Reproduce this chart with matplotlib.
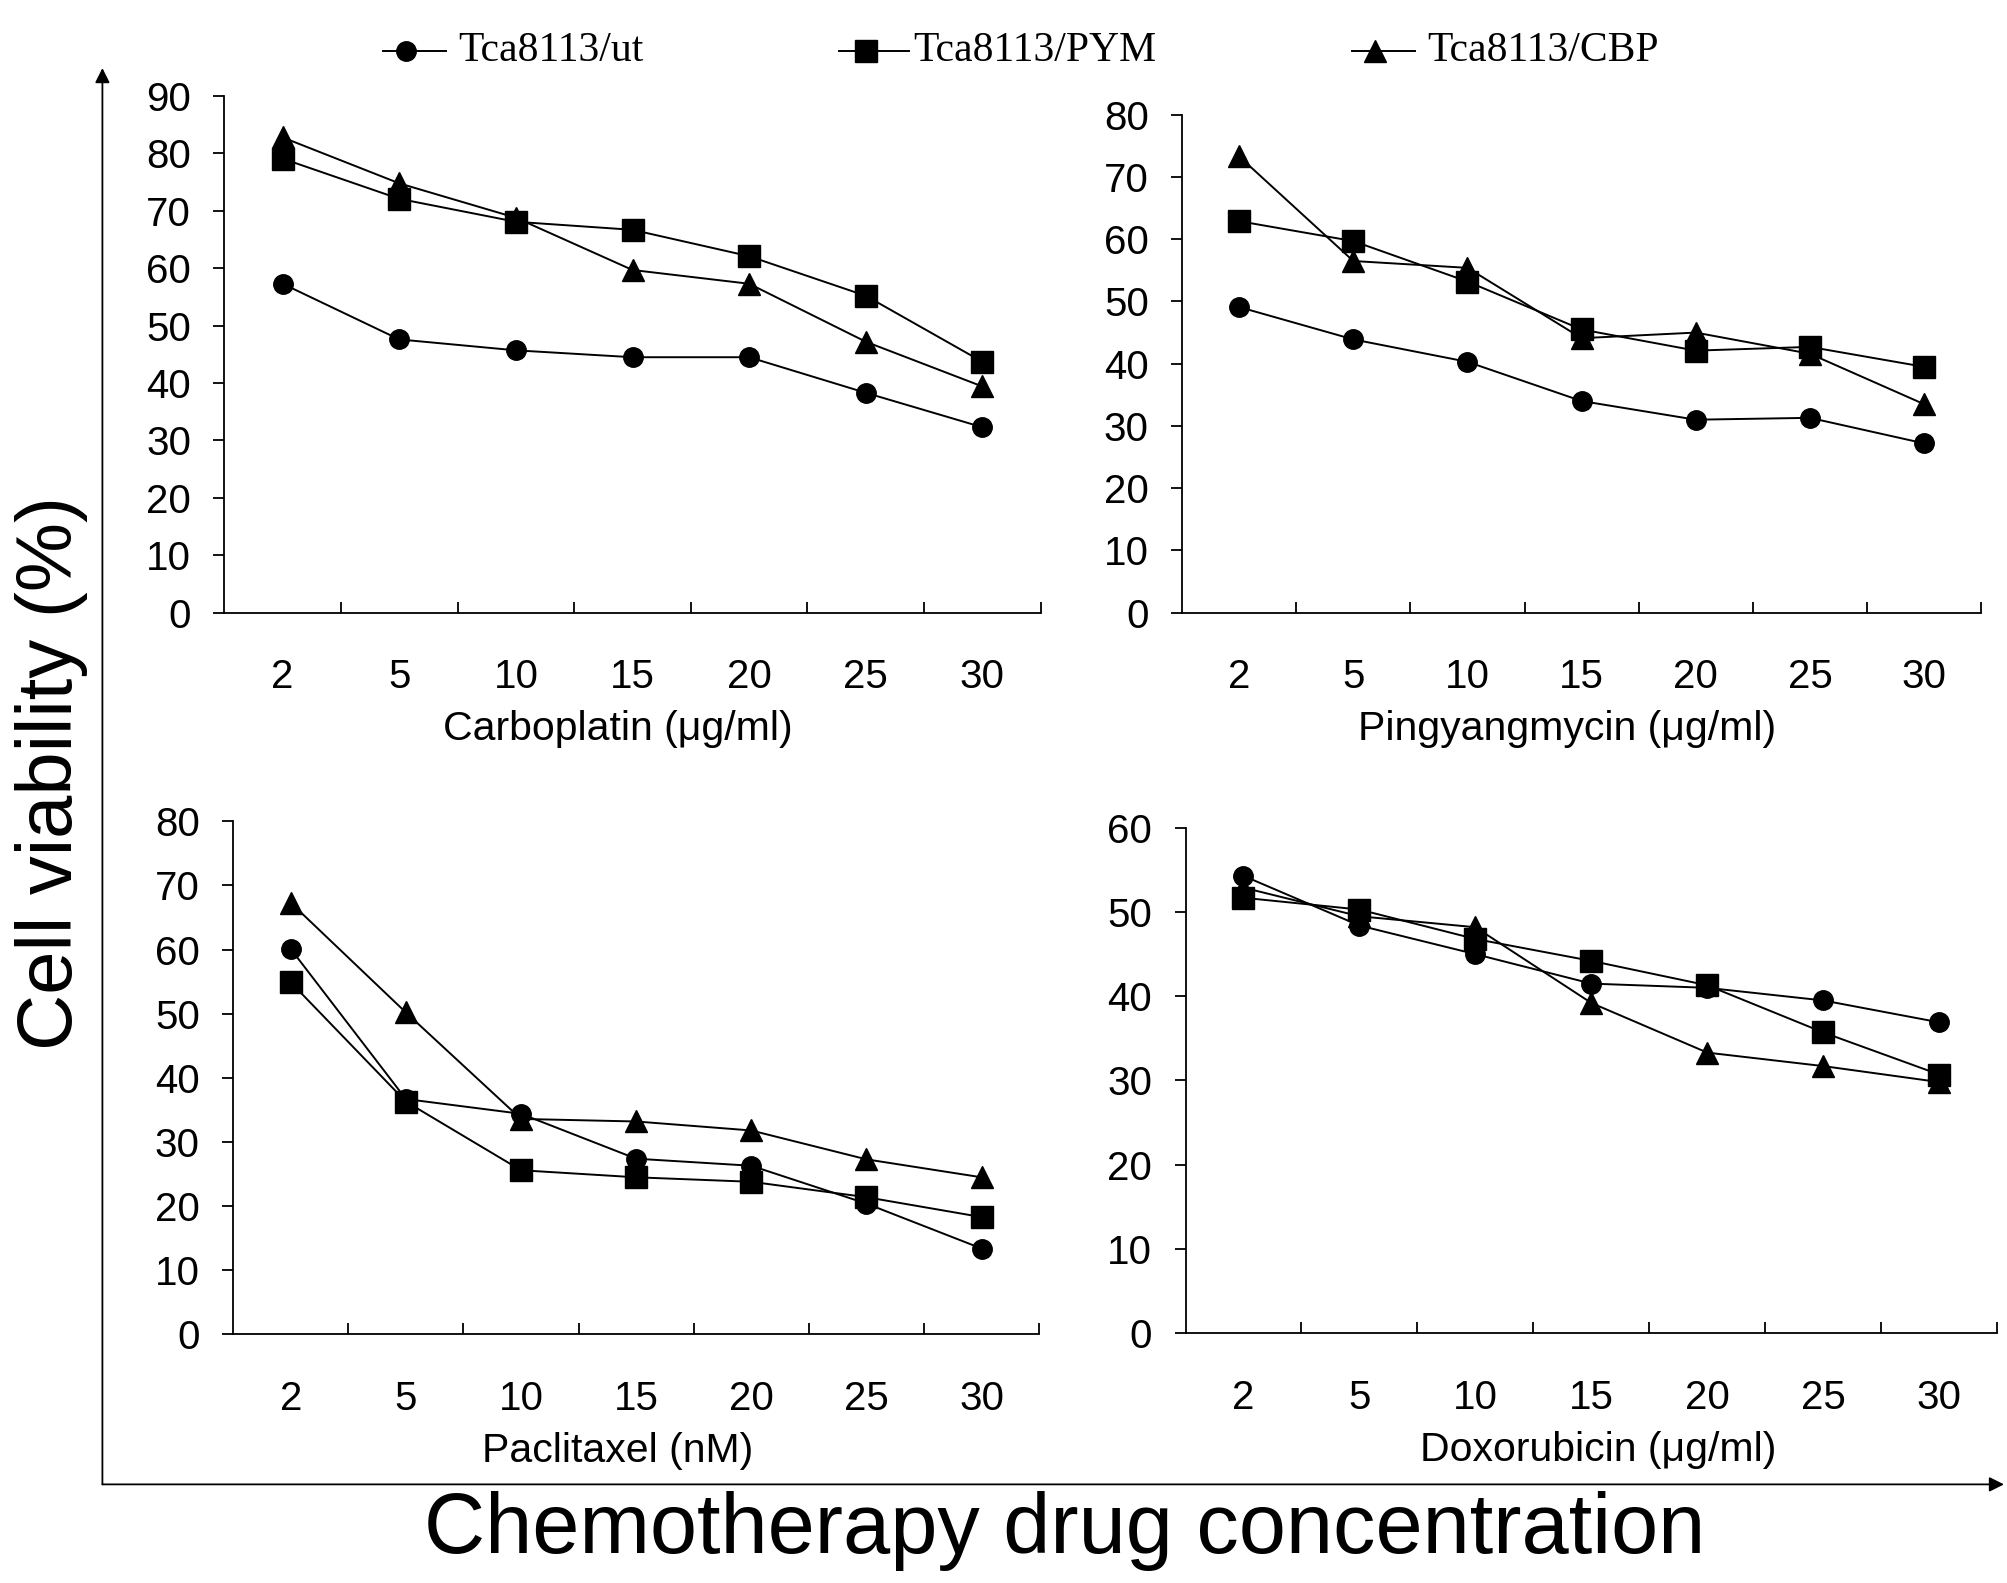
import numpy as np
import matplotlib.pyplot as plt
from matplotlib.lines import Line2D

# doses shown on every panel (category axis)
doses = ['2', '5', '10', '15', '20', '25', '30']

# cell viability (%) per drug, one list per cell line
carbo_ut = [57.3, 47.6, 45.7, 44.5, 44.5, 38.3, 32.3]
carbo_pym = [79.1, 72.1, 68.1, 66.7, 62.1, 55.2, 43.7]
carbo_cbp = [82.8, 74.8, 68.8, 59.7, 57.3, 47.2, 39.4]

pingy_ut = [49.1, 43.9, 40.3, 34.0, 31.0, 31.3, 27.2]
pingy_pym = [62.9, 59.7, 53.2, 45.5, 42.1, 42.7, 39.5]
pingy_cbp = [73.3, 56.5, 55.4, 44.1, 45.0, 41.6, 33.5]

ptx_ut = [60.1, 36.7, 34.4, 27.4, 26.3, 20.4, 13.4]
ptx_pym = [54.9, 36.3, 25.6, 24.5, 23.8, 21.4, 18.3]
ptx_cbp = [67.3, 50.2, 33.6, 33.2, 31.8, 27.3, 24.5]

dox_ut = [54.3, 48.4, 45.0, 41.5, 41.0, 39.5, 36.9]
dox_pym = [51.7, 50.3, 46.8, 44.2, 41.3, 35.7, 30.7]
dox_cbp = [52.9, 49.5, 48.2, 39.2, 33.3, 31.7, 29.8]

series_names = ['Tca8113/ut', 'Tca8113/PYM', 'Tca8113/CBP']
series_markers = ['o', 's', '^']
marker_sizes = [14, 16, 16]

drug_labels = ['Carboplatin (\u03bcg/ml)', 'Pingyangmycin (\u03bcg/ml)',
               'Paclitaxel (nM)', 'Doxorubicin (\u03bcg/ml)']
drug_data = [(carbo_ut, carbo_pym, carbo_cbp),
             (pingy_ut, pingy_pym, pingy_cbp),
             (ptx_ut, ptx_pym, ptx_cbp),
             (dox_ut, dox_pym, dox_cbp)]
y_max = [90, 80, 80, 60]

plt.rcParams['font.family'] = ['Liberation Sans', 'DejaVu Sans']

fig = plt.figure(figsize=(20.08, 15.83), dpi=100)

# panel positions [left, bottom, width, height] in figure fraction
boxes = [[0.1117, 0.613, 0.4066, 0.3263],
         [0.5887, 0.613, 0.3979, 0.3145],
         [0.1161, 0.157, 0.4014, 0.3242],
         [0.5904, 0.158, 0.4042, 0.3190]]
# horizontal centre of each drug label (axes fraction)
label_x = [0.482, 0.482, 0.477, 0.508]

x = np.arange(len(doses))
for box, data, label, ymax, lx in zip(boxes, drug_data, drug_labels,
                                      y_max, label_x):
    ax = fig.add_axes(box)
    for vals, m, ms in zip(data, series_markers, marker_sizes):
        ax.plot(x, vals, color='black', lw=1.4, marker=m, ms=ms,
                mfc='black', mec='black', clip_on=False)

    ax.set_xlim(-0.5, len(doses) - 0.5)
    ax.set_ylim(0, ymax)
    ax.set_yticks(np.arange(0, ymax + 1, 10))

    # category labels in the middle, tick marks between categories
    ax.set_xticks(x)
    ax.set_xticklabels(doses)
    ax.set_xticks(np.arange(0.5, len(doses), 1.0), minor=True)
    ax.tick_params(axis='x', which='major', length=0, pad=33, labelsize=29)
    ax.tick_params(axis='x', which='minor', direction='in', length=8,
                   width=1.3)
    ax.tick_params(axis='y', direction='out', length=8, width=1.3,
                   pad=16, labelsize=29)

    ax.spines['top'].set_visible(False)
    ax.spines['right'].set_visible(False)
    ax.spines['left'].set_linewidth(1.3)
    ax.spines['bottom'].set_linewidth(1.3)
    ax.set_xlabel(label, fontsize=29.5, labelpad=10)
    ax.xaxis.label.set_x(lx)

# outer frame with arrows and shared labels
frame = fig.add_axes([0, 0, 1, 1])
frame.set_xlim(0, 1)
frame.set_ylim(0, 1)
frame.axis('off')
frame.patch.set_alpha(0)
arrow = dict(arrowstyle='-|>', color='black', lw=1.3,
             mutation_scale=22, shrinkA=0, shrinkB=0)
frame.annotate('', xy=(0.051, 0.957), xytext=(0.051, 0.0623),
               arrowprops=arrow)
frame.annotate('', xy=(0.998, 0.0623), xytext=(0.051, 0.0623),
               arrowprops=arrow)

fig.text(0.0255, 0.512, 'Cell viability (%)', rotation=90, fontsize=56,
         ha='center', va='center')
fig.text(0.530, 0.033, 'Chemotherapy drug concentration', fontsize=61,
         ha='center', va='center')

# legend across the top, serif text like the original
leg_y = 0.9678
leg_entries = [(0.1907, 0.2221, 0.2281),
               (0.4178, 0.4528, 0.4547),
               (0.6733, 0.7045, 0.7109)]
for (x0, x1, xt), name, m, ms in zip(leg_entries, series_names,
                                     series_markers, marker_sizes):
    frame.add_line(Line2D([x0, x1], [leg_y, leg_y], color='black', lw=1.4))
    frame.add_line(Line2D([(x0 + x1) / 2 - 0.004], [leg_y], marker=m,
                          ms=ms, color='black', lw=0))
    frame.text(xt, leg_y, name, fontsize=30, ha='left', va='center',
               family=['Liberation Serif', 'DejaVu Serif'])

fig.savefig('out.png', dpi=100)
